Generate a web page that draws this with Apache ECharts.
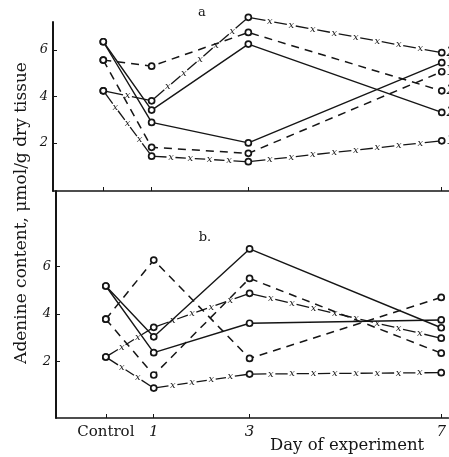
<!DOCTYPE html>
<html><head><meta charset="utf-8">
<script src="https://cdn.jsdelivr.net/npm/echarts@6/dist/echarts.min.js"></script>
<style>html,body{margin:0;padding:0;background:#fff}#c{width:449px;height:457px}</style>
</head><body><div id="c"></div>
<script>
// x positions (days after start, Control = day 0)
const days = [0, 1, 3, 7];
const dayLabels = ['Control', '1', '3', '7'];
const yTicks = [2, 4, 6];

// Panel a (group label at right end)
const aSolid2 = [6.35, 3.41, 6.25, 3.31];
const aSolid1 = [6.35, 2.88, 2.00, 5.45];
const aDash2  = [5.56, 5.30, 6.75, 4.24];
const aDash1  = [5.56, 1.81, 1.55, 5.06];
const aCross2 = [4.24, 3.81, 7.40, 5.88];
const aCross1 = [4.24, 1.43, 1.19, 2.09];

// Panel b
const bSolidA = [5.18, 3.04, 6.74, 3.42];
const bSolidB = [5.18, 2.37, 3.61, 3.75];
const bDashA  = [3.78, 6.27, 2.13, 4.70];
const bDashB  = [3.78, 1.43, 5.50, 2.35];
const bCrossA = [2.19, 3.44, 4.87, 2.98];
const bCrossB = [2.19, 0.88, 1.47, 1.53];

const INK = '#151515';
const SERIF = '"DejaVu Serif", "Liberation Serif", serif';

function pts(vals, endLabel) {
  return days.map((d, i) => {
    if (endLabel && i === days.length - 1) {
      return {value: [d, vals[i]], label: {show: true, position: 'right', distance: 1, offset: [0, -4],
        formatter: endLabel, color: INK, fontFamily: SERIF, fontStyle: 'italic', fontSize: 13}};
    }
    return [d, vals[i]];
  });
}

function lineSeries(vals, g, kind, endLabel) {
  let ls;
  if (kind === 'solid') ls = {color: INK, width: 1.4};
  else if (kind === 'dash') ls = {color: INK, width: 1.5, type: [8, 6]};
  else ls = {color: INK, width: 0, opacity: 0};
  return {
    type: 'line', xAxisIndex: g, yAxisIndex: g, data: pts(vals, endLabel),
    symbol: 'circle', symbolSize: 6, showSymbol: true, clip: false,
    itemStyle: {color: '#fff', borderColor: INK, borderWidth: 1.7},
    labelLayout: {hideOverlap: false},
    lineStyle: ls, z: 3, silent: true, animation: false
  };
}

function crossSeries(vals, g) {
  const p = days.map((d, i) => [d, vals[i]]);
  const segs = p.slice(0, -1).map((q, i) => [q[0], q[1], p[i + 1][0], p[i + 1][1]]);
  return {
    type: 'custom', xAxisIndex: g, yAxisIndex: g, data: segs, silent: true, z: 2, animation: false,
    encode: {x: [0, 2], y: [1, 3]},
    renderItem(params, api) {
      const p0 = api.coord([api.value(0), api.value(1)]);
      const p1 = api.coord([api.value(2), api.value(3)]);
      const dx = p1[0] - p0[0], dy = p1[1] - p0[1];
      const L = Math.hypot(dx, dy);
      const ux = dx / L, uy = dy / L;
      const k = Math.max(1, Math.round(L / 21));
      const step = L / k;
      const children = [];
      for (let j = 0; j < k; j++) {
        const s0 = j * step + (j === 0 ? 3 : 4.5);
        const s1 = (j + 1) * step - (j === k - 1 ? 3 : 4.5);
        if (s1 > s0) children.push({type: 'line',
          shape: {x1: p0[0] + ux * s0, y1: p0[1] + uy * s0, x2: p0[0] + ux * s1, y2: p0[1] + uy * s1},
          style: {stroke: INK, lineWidth: 1.3}});
        if (j < k - 1) {
          const s = (j + 1) * step;
          children.push({type: 'text', x: p0[0] + ux * s, y: p0[1] + uy * s,
            style: {text: 'x', font: 'italic 10px ' + SERIF, fill: INK, align: 'center', verticalAlign: 'middle'}});
        }
      }
      return {type: 'group', children};
    }
  };
}

function xAx(g, withLabels) {
  return {
    type: 'value', gridIndex: g, min: -1.04, max: 7.15,
    axisLine: {show: true, onZero: false, lineStyle: {color: INK, width: 1.5}},
    axisTick: {show: true, inside: true, length: 4, customValues: days, lineStyle: {color: INK, width: 1}},
    axisLabel: withLabels ? {
      show: true, customValues: days, margin: 7,
      formatter: v => { const i = days.indexOf(v); return i === 0 ? dayLabels[0] : '{i|' + dayLabels[i] + '}'; },
      color: INK, fontFamily: SERIF, fontSize: 15,
      rich: {i: {fontStyle: 'italic', fontFamily: SERIF, fontSize: 15, color: INK}}
    } : {show: false},
    splitLine: {show: false}
  };
}
function yAx(g, min, max) {
  return {
    type: 'value', gridIndex: g, min, max,
    axisLine: {show: true, onZero: false, lineStyle: {color: INK, width: 2}},
    axisTick: {show: true, inside: true, length: 4, customValues: yTicks, lineStyle: {color: INK, width: 1}},
    axisLabel: {show: true, customValues: yTicks, margin: 5, color: INK, fontFamily: SERIF, fontStyle: 'italic', fontSize: 13},
    splitLine: {show: false}
  };
}

const chart = echarts.init(document.getElementById('c'), null, {renderer: 'canvas'});
chart.setOption({
  backgroundColor: '#fff',
  animation: false,
  grid: [
    {left: 53, top: 22, width: 396, height: 169},
    {left: 56, top: 191, width: 396, height: 227}
  ],
  xAxis: [xAx(0, false), xAx(1, true)],
  yAxis: [yAx(0, -0.07, 7.2), yAx(1, -0.38, 9.18)],
  graphic: [
    {type: 'text', x: 22, y: 213, rotation: Math.PI / 2,
      style: {text: 'Adenine content, μmol/g dry tissue', font: '17px ' + SERIF, fill: INK, align: 'center', verticalAlign: 'middle'}},
    {type: 'text', x: 270, y: 446, style: {text: 'Day of experiment', font: '16.5px ' + SERIF, fill: INK, verticalAlign: 'middle'}},
    {type: 'text', x: 202, y: 13, style: {text: 'a', font: '13px ' + SERIF, fill: INK, align: 'center', verticalAlign: 'middle'}},
    {type: 'text', x: 205, y: 238, style: {text: 'b.', font: '13px ' + SERIF, fill: INK, align: 'center', verticalAlign: 'middle'}}
  ],
  series: [
    lineSeries(aSolid2, 0, 'solid', '2'),
    lineSeries(aSolid1, 0, 'solid', '1'),
    lineSeries(aDash2, 0, 'dash', '2'),
    lineSeries(aDash1, 0, 'dash', '1'),
    crossSeries(aCross2, 0), lineSeries(aCross2, 0, 'cross', '2'),
    crossSeries(aCross1, 0), lineSeries(aCross1, 0, 'cross', '1'),
    lineSeries(bSolidA, 1, 'solid'),
    lineSeries(bSolidB, 1, 'solid'),
    lineSeries(bDashA, 1, 'dash'),
    lineSeries(bDashB, 1, 'dash'),
    crossSeries(bCrossA, 1), lineSeries(bCrossA, 1, 'cross'),
    crossSeries(bCrossB, 1), lineSeries(bCrossB, 1, 'cross')
  ]
});
</script></body></html>
